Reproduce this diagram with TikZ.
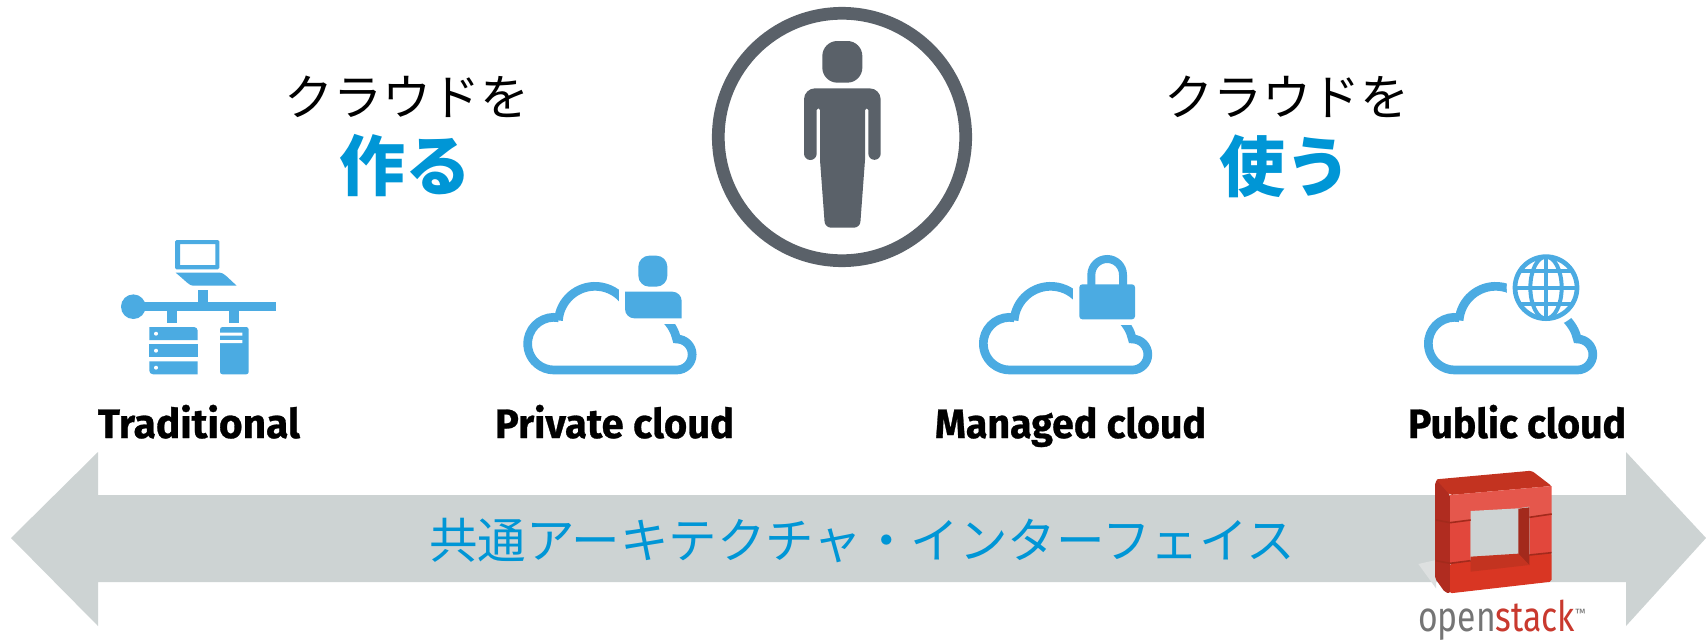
\documentclass[tikz,border=0pt]{standalone}
\usepackage{fontspec}
\usepackage{graphicx}
\newfontfamily\jp{Noto Sans CJK JP}
\newfontfamily\labelfont[BoldFeatures={FakeBold=0.7}]{Fira Sans}
\newfontfamily\osfont{Fira Sans}
\definecolor{icon}{HTML}{4BABE2}
\definecolor{hpblue}{HTML}{0096D6}
\definecolor{bar}{HTML}{CDD3D3}
\definecolor{pers}{HTML}{5A6169}
\definecolor{logoside}{HTML}{B02C20}
\definecolor{logotop}{HTML}{C33320}
\definecolor{logoa}{HTML}{E5574C}
\definecolor{logob}{HTML}{E2473C}
\definecolor{logoc}{HTML}{D93623}
\definecolor{logod}{HTML}{A32A1C}
\definecolor{osgrey}{HTML}{757575}
\definecolor{osred}{HTML}{C9392E}
\definecolor{shadowgrey}{HTML}{DDE0E0}
\tikzset{
  zoom/.style={x=0.33333pt,y=-0.33333pt},
  cloudline/.style={draw=icon,line width=8.7pt,line cap=butt,line join=miter},
  head/.style={font=\jp\fontsize{49}{49}\selectfont,text=black,inner sep=0pt},
  big/.style={font=\jp\bfseries\fontsize{66}{66}\selectfont,text=hpblue,inner sep=0pt},
  lab/.style={font=\labelfont\bfseries\fontsize{41}{41}\selectfont,text=black,inner sep=0pt,anchor=base},
}
\newcommand{\cloudbody}{%
  \draw[cloudline] (145.3,241.3) arc (184:325:110);
  \draw[cloudline] (145.7,233.2) arc (280:90:79) -- (500,390) arc (90:-90:46.5)
     .. controls (495,275) and (485,255) .. (462,232);
}
\begin{document}
\begin{tikzpicture}[x=1pt,y=-1pt]
\useasboundingbox (0,0) rectangle (1706,640);
\fill[white] (0,0) rectangle (1706,640);

% double arrow
\fill[bar] (11,538) -- (98,452) -- (98,495) -- (1626,495) -- (1626,452) -- (1706,538)
  -- (1626,626) -- (1626,582) -- (98,582) -- (98,626) -- cycle;

% person
\draw[pers,line width=12.7pt] (842,137) circle (123.7);
\begin{scope}[shift={(640,0)},zoom]
  \fill[pers,rounded corners=15pt] (547,123) rectangle (667,248);
  \fill[pers] (492,461) arc (180:0:19) -- (530,330) arc (180:360:5) -- (540,480)
    [rounded corners=6pt] -- (555,683) -- (660,683) [sharp corners] -- (675,480) -- (675,330)
    arc (180:360:5) -- (685,461) arc (180:0:18.5) -- (722,400)
    [rounded corners=11pt] -- (722,265) -- (492,265) -- (492,400) [sharp corners] -- cycle;
\end{scope}

% headings
\node[head] (makeh) at (407,97) {クラウドを};
\node[big]  (make)  at (405,166) {作る};
\node[head] (useh)  at (1287,97) {クラウドを};
\node[big]  (use)   at (1285,166) {使う};

% traditional icon
\fill[icon,rounded corners=1.5pt,even odd rule] (175,240) -- (219.3,240) -- (219.3,269.3) -- (175,269.3) -- cycle
   (180,244) [sharp corners] -- (215.3,244) -- (215.3,265) -- (180,265) -- cycle;
\fill[icon] (175.7,272.7) -- (220,272.7) .. controls (224,273) and (226,276) .. (236.7,285.7) -- (193,285.7) .. controls (189,285.5) and (187,282) .. cycle;
\fill[icon] (198.3,290) rectangle (207.7,302);
\fill[icon] (133,302) rectangle (275.7,311);
\fill[icon] (133.3,306.7) circle (12.3);
\fill[icon] (167.3,311) rectangle (177,323);
\fill[icon] (229.3,311) rectangle (238.7,323);
\fill[icon] (149.3,327) -- (194,327) arc (270:360:3.7) -- (197.7,340) -- (149.3,340) -- cycle;
\fill[icon] (149.3,344.3) rectangle (197.7,357);
\fill[icon] (149.3,361.3) -- (197.7,361.3) -- (197.7,374.3) -- (153,374.3) arc (90:180:3.7) -- cycle;
\fill[white] (156,333.7) circle (2) (156,350.7) circle (2) (156,367.7) circle (2);
\fill[icon,rounded corners=2.5pt] (220,327) -- (248.7,327) -- (248.7,374.3) -- (220,374.3) -- cycle;
\fill[white] (219,332.7) rectangle (242.3,335.7) (219,340) rectangle (242.3,343);

% private cloud
\begin{scope}[shift={(510,240)},zoom]
  \cloudbody
  \fill[white] (327,100) rectangle (530,253);
  \fill[icon,rounded corners=11pt] (385,47) rectangle (472,140);
  \fill[icon] (345,155) -- (487,155) arc (270:360:28) -- (515,235) -- (373,235) arc (90:180:28) -- cycle;
\end{scope}

% managed cloud
\begin{scope}[shift={(965.67,240)},zoom]
  \cloudbody
  \fill[white] (321,100) rectangle (530,255);
  \fill[icon,rounded corners=3pt] (341,133) rectangle (508,238);
  \draw[icon,line width=8pt] (377,135) -- (377,104.5) arc (180:360:47.5) -- (472,135);
\end{scope}

% public cloud
\begin{scope}[shift={(1410.67,240)},zoom]
  \cloudbody
  \fill[white] (406,143) circle (118);
  \begin{scope}
    \clip (406,143) circle (93);
    \draw[icon,line width=4pt] (406,43) -- (406,243);
    \draw[icon,line width=4pt] (300,93) -- (510,93) (300,143) -- (510,143) (300,193) -- (510,193);
    \draw[icon,line width=4pt] (406,143) ellipse (47 and 93);
  \end{scope}
  \draw[icon,line width=4.7pt] (406,143) circle (93);
\end{scope}

% bar text
\node[font=\jp\fontsize{48.5}{49}\selectfont,text=hpblue,inner sep=0pt] (common) at (862,541) {共通アーキテクチャ・インターフェイス};

% labels
\node[lab] (trad) at (199,438) {\resizebox{202pt}{\height}{Traditional}};
\node[lab] (priv) at (614.5,438) {\resizebox{239pt}{\height}{Private cloud}};
\node[lab] (mana) at (1070.5,438) {\resizebox{271pt}{\height}{Managed cloud}};
\node[lab] (publ) at (1517,438) {\resizebox{218pt}{\height}{Public cloud}};

% openstack logo
\begin{scope}[shift={(1400,440)},zoom]
  \fill[shadowgrey] (55,372) -- (108,360) -- (108,445) -- cycle;
  \fill[logoside,rounded corners=2pt] (105,128) -- (114,116) -- (150,165) -- (150,460) -- (135,457) -- (105,415) -- cycle;
  \fill[logotop,rounded corners=2pt] (108,118) -- (395,92) -- (455,138) -- (150,165) -- cycle;
  \fill[logoa] (150,165) -- (455,138) -- (455,222) -- (388,232) -- (212,240) -- (150,248) -- cycle;
  \fill[logob] (150,248) -- (212,240) -- (212,362) -- (150,370) -- cycle;
  \fill[logob] (388,232) -- (455,222) -- (455,338) -- (388,345) -- cycle;
  \fill[logoc,rounded corners=2pt] (150,370) -- (212,362) -- (388,345) -- (455,338) -- (455,425) -- (150,460) -- cycle;
  \fill[bar] (212,213) -- (355,205) -- (388,200) -- (388,345) -- (212,352) -- cycle;
  \fill[logod] (355,206) -- (388,202) -- (388,375) -- (355,345) -- cycle;
  \fill[logotop] (212,350) -- (355,341) -- (388,375) -- (212,395) -- cycle;
  \draw[logod,line width=1.6pt] (150,248) -- (212,240) (150,370) -- (212,362) (388,232) -- (455,222) (388,345) -- (455,338) (108,240) -- (150,248) (108,362) -- (150,370);
\end{scope}
\node[inner sep=0pt,anchor=base west,font=\osfont\fontsize{42}{42}\selectfont] (os) at (1418,631.5)
  {\resizebox{157pt}{\height}{\textcolor{osgrey}{open}\textcolor{osred}{stack}}};
\node[inner sep=0pt,anchor=base west,font=\osfont\fontsize{12}{12}\selectfont,text=osgrey] (tm) at (1575,617) {™};
\end{tikzpicture}
\end{document}
